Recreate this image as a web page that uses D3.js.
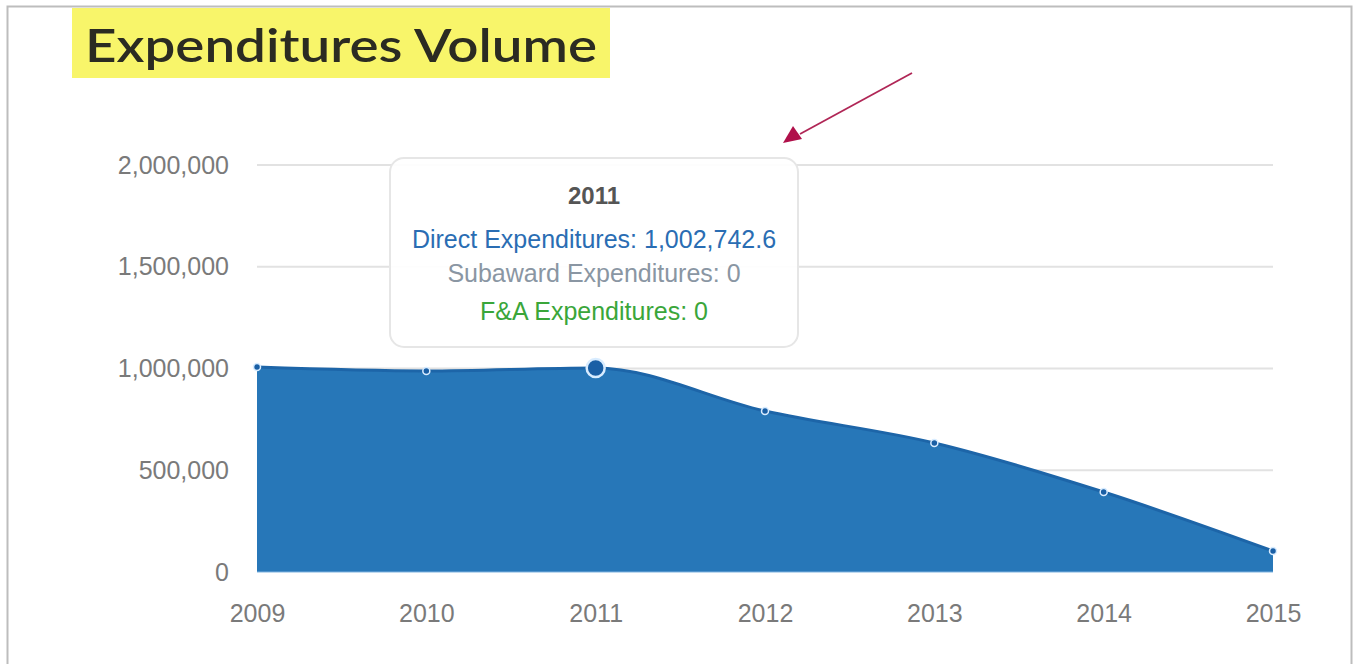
<!DOCTYPE html>
<html><head><meta charset="utf-8">
<script src="https://cdn.jsdelivr.net/npm/d3@7"></script>
<style>
html,body{margin:0;padding:0;background:#fff;}
svg{display:block;}
</style></head>
<body>
<svg id="c" width="1355" height="664"></svg>
<script>
const years = ["2009","2010","2011","2012","2013","2014","2015"];
const directValues = [1007000, 988000, 1002742.6, 791000, 634000, 393000, 103000];
const yTicks = [0, 500000, 1000000, 1500000, 2000000];
const titleText = "Expenditures Volume";
const tooltipYear = "2011";
const tooltipLines = [
  {label: "Direct Expenditures: 1,002,742.6", color: "#2a6db3"},
  {label: "Subaward Expenditures: 0", color: "#8a96a3"},
  {label: "F&A Expenditures: 0", color: "#3aa63a"}
];
const hoverIndex = 2;

const svg = d3.select("#c");
// frame
svg.append("rect").attr("x",7.5).attr("y",6.5).attr("width",1344).attr("height",670)
  .attr("fill","none").attr("stroke","#bdbdbd").attr("stroke-width",2);

// title
svg.append("rect").attr("x",72).attr("y",8).attr("width",538).attr("height",70).attr("fill","#f8f56a");
svg.append("text").attr("x",85).attr("y",62).text(titleText)
  .attr("font-family","Lato, 'Open Sans', sans-serif").attr("font-weight",600)
  .attr("font-size",46).attr("fill","#2b2b22").attr("textLength",512).attr("lengthAdjust","spacingAndGlyphs");

const x = d3.scalePoint().domain(years).range([257, 1273]);
const y = d3.scaleLinear().domain([0, 2000000]).range([572, 165]);
const ff = "'Helvetica Neue', Arial, 'Liberation Sans', sans-serif";

// grid
svg.append("g").selectAll("line").data(yTicks.filter(d=>d>0)).join("line")
  .attr("x1",257).attr("x2",1273).attr("y1",d=>y(d)).attr("y2",d=>y(d))
  .attr("stroke","#e2e2e2").attr("stroke-width",2);

// y axis
const yAxis = d3.axisLeft(y).tickValues(yTicks).tickFormat(d3.format(",")).tickSize(0).tickPadding(0);
const gy = svg.append("g").attr("transform","translate(258,0)").call(yAxis);
gy.select(".domain").remove();
gy.selectAll("text").attr("x",-29).attr("font-family",ff)
  .attr("font-size",25).attr("fill","#7a7a7a");

// x axis
const xAxis = d3.axisBottom(x).tickSize(0).tickPadding(0);
const gx = svg.append("g").attr("transform","translate(0,572)").call(xAxis);
gx.select(".domain").remove();
gx.selectAll("text").attr("y",41).attr("dy","0.35em").attr("font-family",ff)
  .attr("font-size",25).attr("fill","#7a7a7a");

const data = years.map((yr,i)=>({yr, v: directValues[i]}));
const area = d3.area().x(d=>x(d.yr)).y0(y(0)).y1(d=>y(d.v)).curve(d3.curveMonotoneX);
const line = d3.line().x(d=>x(d.yr)).y(d=>y(d.v)).curve(d3.curveMonotoneX);
svg.append("path").datum(data).attr("d",area).attr("fill","#2777b8");
svg.append("path").datum(data).attr("d",line).attr("fill","none").attr("stroke","#1d65a8").attr("stroke-width",3);
svg.append("line").attr("x1",257).attr("x2",1273).attr("y1",572).attr("y2",572).attr("stroke","#7fb3e0").attr("stroke-width",1);

svg.append("g").selectAll("circle").data(data).join("circle")
  .attr("cx",d=>x(d.yr)).attr("cy",d=>y(d.v))
  .attr("r",(d,i)=> i===hoverIndex ? 9 : 3.5)
  .attr("fill","#1a5fa5").attr("stroke","#d8ecff").attr("stroke-width",(d,i)=> i===hoverIndex ? 2.5 : 1.5);

// tooltip
const tt = svg.append("g");
tt.append("rect").attr("x",390).attr("y",158).attr("width",408).attr("height",189).attr("rx",14)
  .attr("fill","rgba(255,255,255,0.93)").attr("stroke","#e6e6e6").attr("stroke-width",2);
tt.append("text").attr("x",594).attr("y",204).attr("text-anchor","middle").text(tooltipYear)
  .attr("font-family",ff).attr("font-weight","bold").attr("font-size",24).attr("fill","#555");
tt.selectAll("text.l").data(tooltipLines).join("text").attr("class","l")
  .attr("x",594).attr("y",(d,i)=>[248,282,320][i]).attr("text-anchor","middle")
  .text(d=>d.label).attr("fill",d=>d.color).attr("font-family",ff).attr("font-size",25);

// arrow
svg.append("line").attr("x1",912).attr("y1",73).attr("x2",800).attr("y2",134)
  .attr("stroke","#b02656").attr("stroke-width",1.8);
svg.append("path").attr("d","M783,143 L793,126 L802,139 Z").attr("fill","#b0104a");
</script>
</body></html>
